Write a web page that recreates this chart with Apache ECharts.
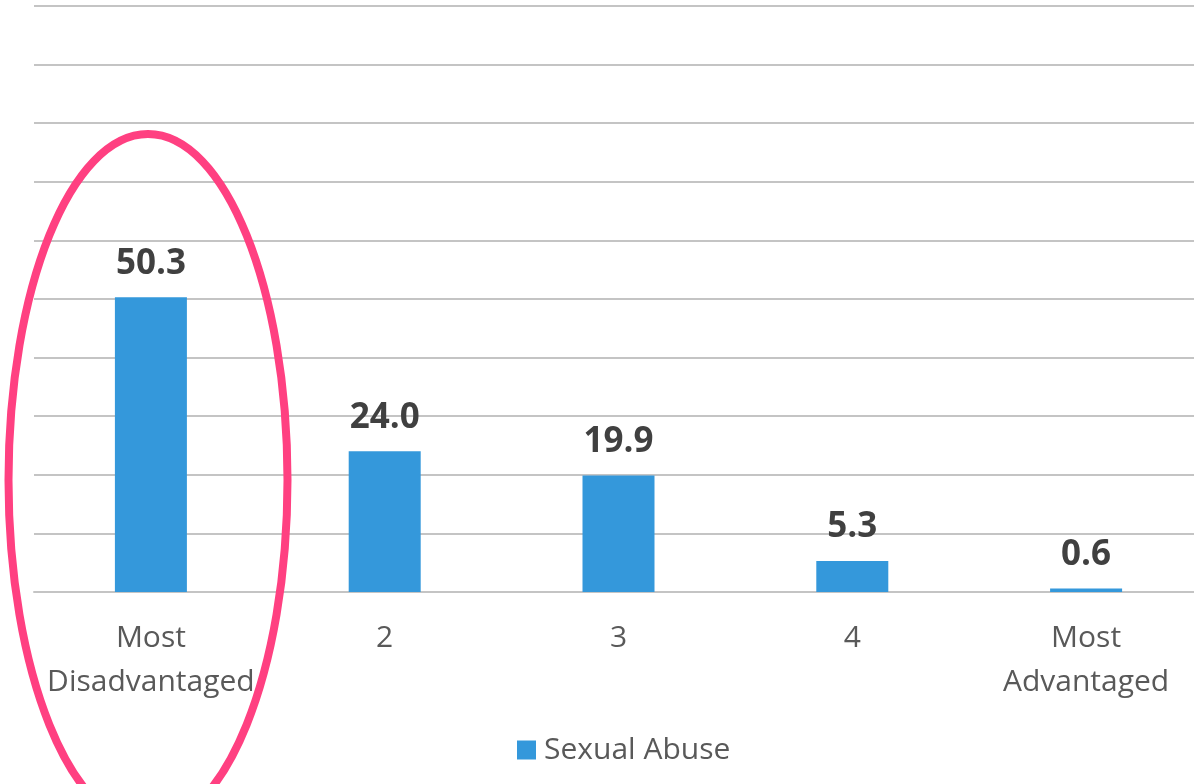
<!DOCTYPE html>
<html>
<head>
<meta charset="utf-8">
<script src="https://cdn.jsdelivr.net/npm/echarts@6/dist/echarts.min.js"></script>
<style>html,body{margin:0;padding:0;background:#fff;overflow:hidden;width:1194px;height:784px}#c{width:1203px;height:784px}</style>
</head>
<body>
<div id="c"></div>
<script>
const categories = ['Most\nDisadvantaged', '2', '3', '4', 'Most\nAdvantaged'];
const seriesName = 'Sexual Abuse';
const values = [50.3, 24.0, 19.9, 5.3, 0.6];

const chart = echarts.init(document.getElementById('c'));
const FONT = '"Open Sans", "Noto Sans", sans-serif';
chart.setOption({
  animation: false,
  backgroundColor: '#ffffff',
  grid: { left: 34, right: 0, top: 6, bottom: 192, containLabel: false },
  legend: {
    left: 512, top: 730,
    itemWidth: 19, itemHeight: 19, itemGap: 10,
    icon: 'rect',
    textStyle: { fontFamily: FONT, fontSize: 30, color: '#595959', padding: [0, 0, 0, 3] },
    data: [seriesName]
  },
  xAxis: {
    type: 'category',
    data: categories,
    axisLine: { show: true, lineStyle: { color: '#c4c4c4', width: 2 } },
    axisTick: { show: false },
    axisLabel: { fontFamily: FONT, fontSize: 30, lineHeight: 44, color: '#595959', margin: 24, interval: 0 }
  },
  yAxis: {
    type: 'value', min: 0, max: 100, interval: 10,
    axisLabel: { show: false },
    axisLine: { show: false },
    axisTick: { show: false },
    splitLine: { lineStyle: { color: '#c4c4c4', width: 2 } }
  },
  series: [{
    name: seriesName,
    type: 'bar',
    data: values,
    barWidth: 72,
    itemStyle: { color: '#3498db' },
    label: {
      show: true, position: 'top', distance: 16,
      formatter: p => p.value.toFixed(1),
      fontFamily: FONT, fontSize: 35, fontWeight: 'bold', color: '#404040'
    }
  }],
  graphic: [{
    type: 'ellipse',
    shape: { cx: 148, cy: 480, rx: 139.5, ry: 346 },
    style: { fill: 'none', stroke: '#ff4081', lineWidth: 8 },
    z: 100
  }]
});
</script>
</body>
</html>
